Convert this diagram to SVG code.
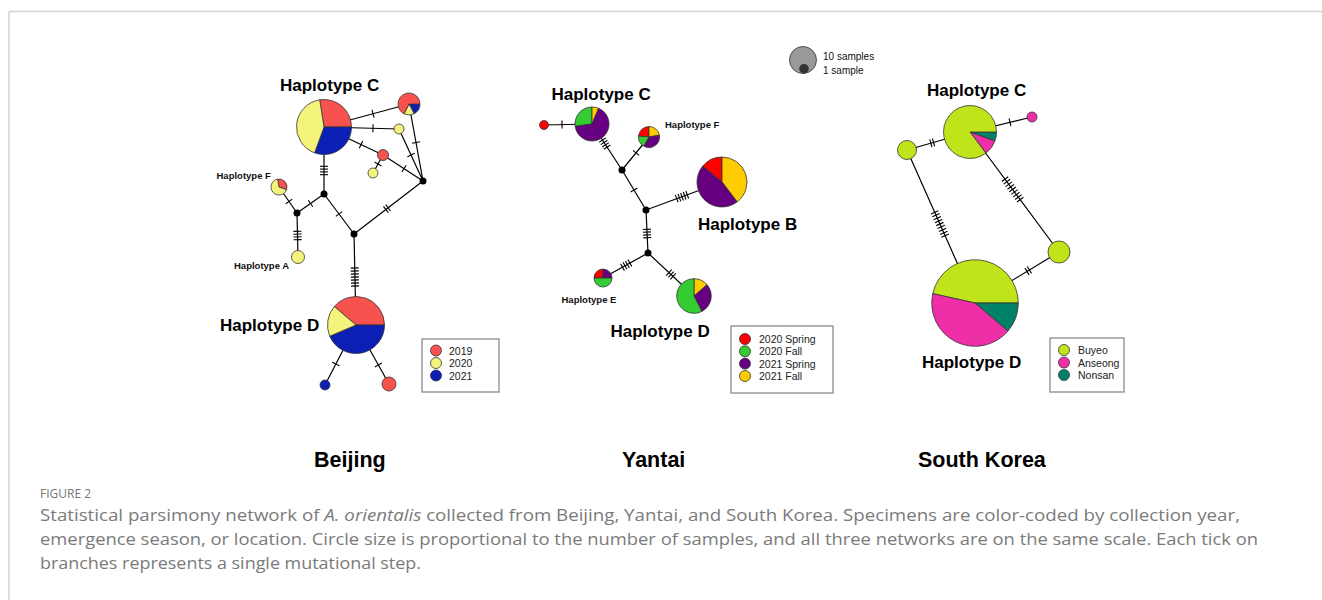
<svg xmlns="http://www.w3.org/2000/svg" xmlns:xlink="http://www.w3.org/1999/xlink" width="1322" height="600" viewBox="0 0 1322 600">
<style>
.ln{stroke:#000;stroke-width:1.2;fill:none}
.tk line{stroke:#000;stroke-width:1.1}
.pc{stroke:#333;stroke-width:0.8}
.nd{fill:#000}
.hl{font-family:"Liberation Sans",Arial,sans-serif;font-weight:bold;font-size:17px;fill:#000}
.hs{font-family:"Liberation Sans",Arial,sans-serif;font-weight:bold;font-size:9.5px;fill:#111}
.ttl{font-family:"Liberation Sans",Arial,sans-serif;font-weight:bold;font-size:21.5px;fill:#000}
.lg{font-family:"Liberation Sans",Arial,sans-serif;font-size:10.5px;fill:#222}
.box{fill:#fff;stroke:#8a8a8a;stroke-width:1.3}
.cap{font-family:"Open Sans","Noto Sans",sans-serif;font-size:16px;fill:#7a7a7a}
.r19{fill:#F8524F}.y20{fill:#F4F47C}.b21{fill:#0B1FB5}
.rs{fill:#FF0000}.gf{fill:#33CC33}.ps{fill:#660080}.yf{fill:#FFCC00}
.lm{fill:#BFE51A}.mg{fill:#EE2FA8}.tl{fill:#008066}
</style>
<defs>
<g id="t1" class="tk"><line x1="0" y1="-4" x2="0" y2="4"/></g>
<g id="t2" class="tk"><line x1="-1.4" y1="-4" x2="-1.4" y2="4"/><line x1="1.4" y1="-4" x2="1.4" y2="4"/></g>
<g id="t3" class="tk"><line x1="-2.8" y1="-4" x2="-2.8" y2="4"/><line x1="0" y1="-4" x2="0" y2="4"/><line x1="2.8" y1="-4" x2="2.8" y2="4"/></g>
<g id="t4" class="tk"><line x1="-4.2" y1="-4" x2="-4.2" y2="4"/><line x1="-1.4" y1="-4" x2="-1.4" y2="4"/><line x1="1.4" y1="-4" x2="1.4" y2="4"/><line x1="4.2" y1="-4" x2="4.2" y2="4"/></g>
<g id="t5" class="tk"><line x1="-5.6" y1="-4" x2="-5.6" y2="4"/><line x1="-2.8" y1="-4" x2="-2.8" y2="4"/><line x1="0" y1="-4" x2="0" y2="4"/><line x1="2.8" y1="-4" x2="2.8" y2="4"/><line x1="5.6" y1="-4" x2="5.6" y2="4"/></g>
<g id="t7" class="tk"><line x1="-9" y1="-4" x2="-9" y2="4"/><line x1="-6" y1="-4" x2="-6" y2="4"/><line x1="-3" y1="-4" x2="-3" y2="4"/><line x1="0" y1="-4" x2="0" y2="4"/><line x1="3" y1="-4" x2="3" y2="4"/><line x1="6" y1="-4" x2="6" y2="4"/><line x1="9" y1="-4" x2="9" y2="4"/></g>
<g id="t9" class="tk"><line x1="-12.8" y1="-4" x2="-12.8" y2="4"/><line x1="-9.6" y1="-4" x2="-9.6" y2="4"/><line x1="-6.4" y1="-4" x2="-6.4" y2="4"/><line x1="-3.2" y1="-4" x2="-3.2" y2="4"/><line x1="0" y1="-4" x2="0" y2="4"/><line x1="3.2" y1="-4" x2="3.2" y2="4"/><line x1="6.4" y1="-4" x2="6.4" y2="4"/><line x1="9.6" y1="-4" x2="9.6" y2="4"/><line x1="12.8" y1="-4" x2="12.8" y2="4"/></g>
</defs>
<rect width="1322" height="600" fill="#fff"/>
<path d="M9 11.5 H1322 M9 11.5 V600" stroke="#d2d2d2" stroke-width="1.5" fill="none"/>

<!-- connectors -->
<g id="connectors">
<!-- Beijing -->
<path class="ln" d="M324 127 L409 104 M324 127 L399 129 M324 127 L383 155 M383 155 L373 173 M383 155 L423 181 M409 104 L423 181 M399 129 L423 181 M324 127 L324 194 M324 194 L297 213 M297 213 L279 187 M297 213 L298 257 M324 194 L354 234 M354 234 L423 181 M354 234 L356 325 M356 325 L325 385 M356 325 L389 384"/>
<use href="#t1" transform="translate(373,113.7) rotate(-15.1)"/>
<use href="#t1" transform="translate(373,128.3) rotate(1.5)"/>
<use href="#t1" transform="translate(361,144.6) rotate(25.4)"/>
<use href="#t1" transform="translate(378,164) rotate(119.1)"/>
<use href="#t1" transform="translate(404,168.6) rotate(33)"/>
<use href="#t1" transform="translate(416,142.5) rotate(79.7)"/>
<use href="#t1" transform="translate(411,155) rotate(65.2)"/>
<use href="#t4" transform="translate(324,170.5) rotate(90)"/>
<use href="#t1" transform="translate(310.5,203.5) rotate(144.9)"/>
<use href="#t1" transform="translate(289,201.4) rotate(-124.7)"/>
<use href="#t4" transform="translate(297.5,235.5) rotate(88.7)"/>
<use href="#t1" transform="translate(339,214) rotate(53.1)"/>
<use href="#t2" transform="translate(387,208.65) rotate(-37.5)"/>
<use href="#t7" transform="translate(354.9,277) rotate(88.7)"/>
<use href="#t1" transform="translate(335.85,364) rotate(117.3)"/>
<use href="#t1" transform="translate(378.37,365) rotate(60.8)"/>
<!-- Yantai -->
<path class="ln" d="M544 125 L592 124 M592 124 L622 170 M649 137 L622 170 M622 170 L646 210 M646 210 L722 182 M646 210 L648 253 M648 253 L603 278 M648 253 L694 296"/>
<use href="#t1" transform="translate(562,124.6) rotate(-1.2)"/>
<use href="#t4" transform="translate(604.8,143.6) rotate(56.9)"/>
<use href="#t1" transform="translate(636,152.9) rotate(129.3)"/>
<use href="#t1" transform="translate(634,190) rotate(59)"/>
<use href="#t5" transform="translate(682,196.7) rotate(-20.2)"/>
<use href="#t4" transform="translate(647.1,233.5) rotate(87.3)"/>
<use href="#t4" transform="translate(626.2,265.1) rotate(150.9)"/>
<use href="#t3" transform="translate(671,274.5) rotate(43.1)"/>
<!-- South Korea -->
<path class="ln" d="M970 132 L1032 117 M970 132 L907 150 M970 132 L1059 252 M907 150 L975 303 M1059 252 L975 303"/>
<use href="#t1" transform="translate(1010,122.3) rotate(-13.6)"/>
<use href="#t2" transform="translate(932.2,142.8) rotate(164.1)"/>
<use href="#t9" transform="translate(1012.6,189.4) rotate(53.4)"/>
<use href="#t9" transform="translate(939.9,224) rotate(66)"/>
<use href="#t2" transform="translate(1028.2,270.7) rotate(148.7)"/>
</g>

<!-- Beijing nodes -->
<g id="bj-hapC">
<path class="pc r19" d="M324 127 L319.70 99.84 A27.5 27.5 0 0 1 351.5 127 Z"/>
<path class="pc b21" d="M324 127 L351.5 127 A27.5 27.5 0 0 1 314.59 152.84 Z"/>
<path class="pc y20" d="M324 127 L314.59 152.84 A27.5 27.5 0 0 1 319.70 99.84 Z"/>
<text class="hl" x="280" y="91">Haplotype C</text>
</g>
<g id="bj-pie2">
<path class="pc b21" d="M409 104 L420 104 A11 11 0 0 1 414.16 113.71 Z"/>
<path class="pc y20" d="M409 104 L414.16 113.71 A11 11 0 0 1 404.01 113.80 Z"/>
<path class="pc r19" d="M409 104 L404.01 113.80 A11 11 0 1 1 420 104 Z"/>
</g>
<g id="bj-y1"><circle class="pc y20" cx="399" cy="129" r="5"/></g>
<g id="bj-r1"><circle class="pc r19" cx="383" cy="155" r="5.5"/></g>
<g id="bj-y2"><circle class="pc y20" cx="373" cy="173" r="5"/></g>
<g id="bj-hapF">
<path class="pc r19" d="M279 187 L277.61 179.12 A8 8 0 0 1 286.52 189.74 Z"/>
<path class="pc y20" d="M279 187 L286.52 189.74 A8 8 0 1 1 277.61 179.12 Z"/>
<text class="hs" x="216.5" y="179">Haplotype F</text>
</g>
<g id="bj-hapA">
<circle class="pc y20" cx="298" cy="257" r="6.5"/>
<text class="hs" x="234" y="268.5">Haplotype A</text>
</g>
<g id="bj-hapD">
<path class="pc r19" d="M356 325 L334.33 306.49 A28.5 28.5 0 0 1 384.5 325 Z"/>
<path class="pc b21" d="M356 325 L384.5 325 A28.5 28.5 0 0 1 329.77 336.14 Z"/>
<path class="pc y20" d="M356 325 L329.77 336.14 A28.5 28.5 0 0 1 334.33 306.49 Z"/>
<text class="hl" x="220" y="330.5">Haplotype D</text>
</g>
<g id="bj-b1"><circle class="pc b21" cx="325" cy="385" r="5"/></g>
<g id="bj-r2"><circle class="pc r19" cx="389" cy="384" r="7"/></g>
<g id="bj-nodes">
<circle class="nd" cx="423" cy="181" r="3.5"/>
<circle class="nd" cx="324" cy="194" r="3.5"/>
<circle class="nd" cx="297" cy="213" r="3.5"/>
<circle class="nd" cx="354" cy="234" r="3.5"/>
</g>
<g id="bj-legend">
<rect class="box" x="422" y="339" width="77" height="53"/>
<circle class="pc r19" cx="436" cy="350.5" r="5.5"/>
<circle class="pc y20" cx="436" cy="363" r="5.5"/>
<circle class="pc b21" cx="436" cy="375.5" r="5.5"/>
<text class="lg" x="449" y="354.5">2019</text>
<text class="lg" x="449" y="367">2020</text>
<text class="lg" x="449" y="379.5">2021</text>
</g>

<!-- Yantai nodes -->
<g id="yt-r1"><circle class="pc rs" cx="544" cy="125" r="4.5"/></g>
<g id="yt-hapC">
<path class="pc gf" d="M592 124 L575.17 126.37 A17 17 0 0 1 592 107 Z"/>
<path class="pc yf" d="M592 124 L592 107 A17 17 0 0 1 598.64 108.35 Z"/>
<path class="pc ps" d="M592 124 L598.64 108.35 A17 17 0 1 1 575.17 126.37 Z"/>
<text class="hl" x="551.5" y="99.5">Haplotype C</text>
</g>
<g id="yt-hapF">
<path class="pc rs" d="M649 137 L638.54 136.08 A10.5 10.5 0 0 1 649 126.5 Z"/>
<path class="pc yf" d="M649 137 L649 126.5 A10.5 10.5 0 0 1 659.34 135.18 Z"/>
<path class="pc ps" d="M649 137 L659.34 135.18 A10.5 10.5 0 0 1 643.75 146.09 Z"/>
<path class="pc gf" d="M649 137 L643.75 146.09 A10.5 10.5 0 0 1 638.54 136.08 Z"/>
<text class="hs" x="665" y="127.8">Haplotype F</text>
</g>
<g id="yt-hapB">
<path class="pc rs" d="M722 182 L702.65 166.17 A25 25 0 0 1 722 157 Z"/>
<path class="pc yf" d="M722 182 L722 157 A25 25 0 0 1 737.15 201.89 Z"/>
<path class="pc ps" d="M722 182 L737.15 201.89 A25 25 0 0 1 702.65 166.17 Z"/>
<text class="hl" x="698" y="230">Haplotype B</text>
</g>
<g id="yt-hapE">
<path class="pc rs" d="M603 278 L594 278 A9 9 0 0 1 603 269 Z"/>
<path class="pc ps" d="M603 278 L603 269 A9 9 0 0 1 612 278 Z"/>
<path class="pc gf" d="M603 278 L612 278 A9 9 0 0 1 594 278 Z"/>
<text class="hs" x="561.5" y="302.5">Haplotype E</text>
</g>
<g id="yt-hapD">
<path class="pc yf" d="M694 296 L694 278.7 A17.3 17.3 0 0 1 707.08 284.67 Z"/>
<path class="pc ps" d="M694 296 L707.08 284.67 A17.3 17.3 0 0 1 701.85 311.41 Z"/>
<path class="pc gf" d="M694 296 L701.85 311.41 A17.3 17.3 0 1 1 694 278.7 Z"/>
<text class="hl" x="610.5" y="337">Haplotype D</text>
</g>
<g id="yt-nodes">
<circle class="nd" cx="622" cy="170" r="3.5"/>
<circle class="nd" cx="646" cy="210" r="3.5"/>
<circle class="nd" cx="648" cy="253" r="3.5"/>
</g>
<g id="yt-legend">
<rect class="box" x="731" y="326" width="102" height="67"/>
<circle class="pc rs" cx="745" cy="339" r="5.5"/>
<circle class="pc gf" cx="745" cy="351.3" r="5.5"/>
<circle class="pc ps" cx="745" cy="363.6" r="5.5"/>
<circle class="pc yf" cx="745" cy="376" r="5.5"/>
<text class="lg" x="759" y="343">2020 Spring</text>
<text class="lg" x="759" y="355.3">2020 Fall</text>
<text class="lg" x="759" y="367.6">2021 Spring</text>
<text class="lg" x="759" y="380">2021 Fall</text>
</g>

<!-- sample size legend -->
<g id="size-legend">
<circle cx="803" cy="60" r="13.5" fill="#999" stroke="#333" stroke-width="0.8"/>
<circle cx="804" cy="68.7" r="4.4" fill="#333" stroke="#222" stroke-width="0.6"/>
<text class="hs" style="font-weight:normal;font-size:10px" x="823" y="60">10 samples</text>
<text class="hs" style="font-weight:normal;font-size:10px" x="823" y="73.5">1 sample</text>
</g>

<!-- South Korea nodes -->
<g id="kr-hapC">
<path class="pc tl" d="M970 132 L996.5 132 A26.5 26.5 0 0 1 994.90 141.06 Z"/>
<path class="pc mg" d="M970 132 L994.90 141.06 A26.5 26.5 0 0 1 985.95 153.16 Z"/>
<path class="pc lm" d="M970 132 L985.95 153.16 A26.5 26.5 0 1 1 996.5 132 Z"/>
<text class="hl" x="927" y="96">Haplotype C</text>
</g>
<g id="kr-m1"><circle class="pc mg" cx="1032" cy="117" r="5"/></g>
<g id="kr-l1"><circle class="pc lm" cx="907" cy="150" r="9.5"/></g>
<g id="kr-l2"><circle class="pc lm" cx="1059" cy="252" r="11"/></g>
<g id="kr-hapD">
<path class="pc lm" d="M975 303 L932.73 293.63 A43.3 43.3 0 0 1 1018.3 303 Z"/>
<path class="pc tl" d="M975 303 L1018.3 303 A43.3 43.3 0 0 1 1007.93 331.12 Z"/>
<path class="pc mg" d="M975 303 L1007.93 331.12 A43.3 43.3 0 0 1 932.73 293.63 Z"/>
<text class="hl" x="922" y="368">Haplotype D</text>
</g>
<g id="kr-legend">
<rect class="box" x="1050" y="338" width="74" height="54"/>
<circle class="pc lm" cx="1064" cy="350" r="5.5"/>
<circle class="pc mg" cx="1064" cy="362.5" r="5.5"/>
<circle class="pc tl" cx="1064" cy="375" r="5.5"/>
<text class="lg" x="1078" y="354">Buyeo</text>
<text class="lg" x="1078" y="366.5">Anseong</text>
<text class="lg" x="1078" y="379">Nonsan</text>
</g>

<!-- titles -->
<text class="ttl" x="314" y="467">Beijing</text>
<text class="ttl" x="622" y="467">Yantai</text>
<text class="ttl" x="918" y="467">South Korea</text>

<!-- caption -->
<text x="40" y="498" style="font-family:'Open Sans','Noto Sans',sans-serif;font-size:12px;fill:#777">FIGURE 2</text>
<text class="cap" x="40" y="521" textLength="1200" lengthAdjust="spacingAndGlyphs">Statistical parsimony network of <tspan font-style="italic">A. orientalis</tspan> collected from Beijing, Yantai, and South Korea. Specimens are color-coded by collection year,</text>
<text class="cap" x="40" y="545" textLength="1218" lengthAdjust="spacingAndGlyphs">emergence season, or location. Circle size is proportional to the number of samples, and all three networks are on the same scale. Each tick on</text>
<text class="cap" x="40" y="568.5" textLength="381" lengthAdjust="spacingAndGlyphs">branches represents a single mutational step.</text>
</svg>
